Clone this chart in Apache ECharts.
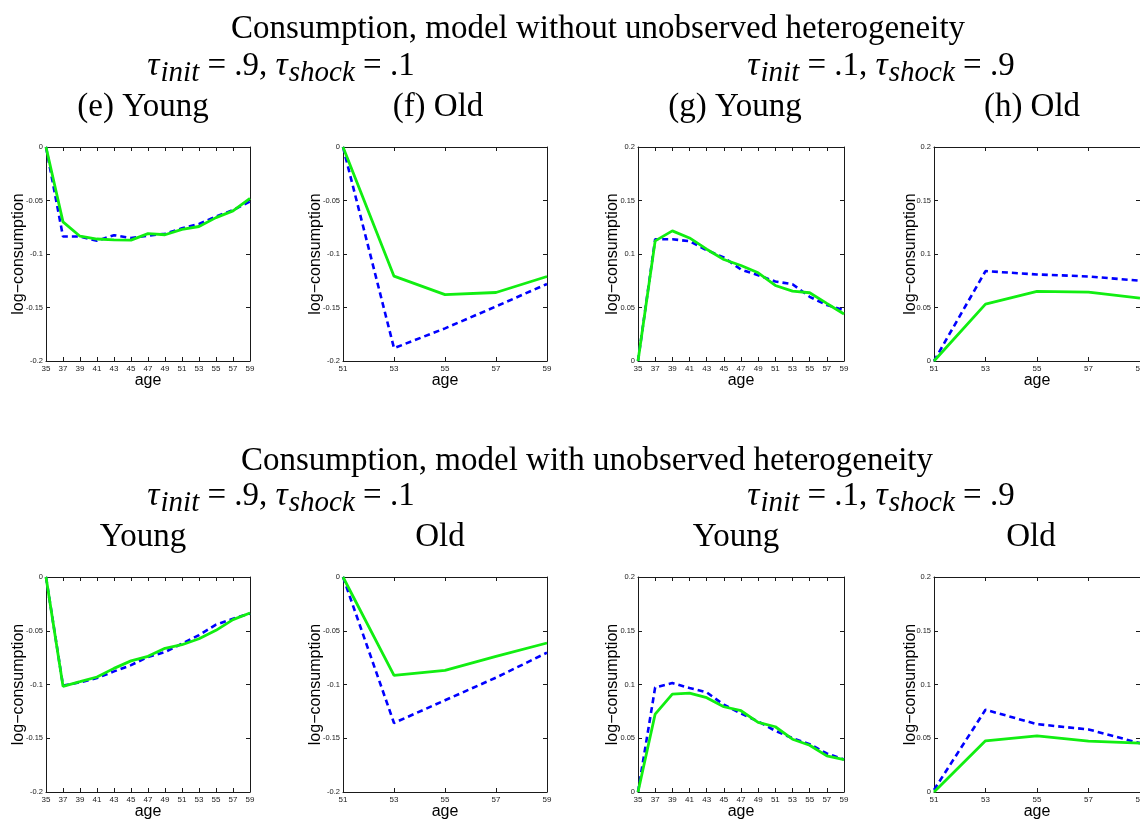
<!DOCTYPE html>
<html>
<head>
<meta charset="utf-8">
<script src="https://cdn.jsdelivr.net/npm/echarts@6/dist/echarts.min.js"></script>
<style>html,body{margin:0;padding:0;background:#fff}#c{width:1140px;height:821px}</style>
</head>
<body>
<div id="c"></div>
<script>
// ---- Data ----
const agesYoung = ['35','37','39','41','43','45','47','49','51','53','55','57','59'];
const agesOld = ['51','53','55','57','59'];

// Model without unobserved heterogeneity, tau_init=.9, tau_shock=.1
const noUH_A_young_dashed = [0, -0.0837, -0.0837, -0.0877, -0.0824, -0.085, -0.083, -0.081, -0.076, -0.072, -0.065, -0.059, -0.051];
const noUH_A_young_solid  = [0, -0.070, -0.0834, -0.086, -0.0868, -0.087, -0.081, -0.082, -0.077, -0.0743, -0.066, -0.0597, -0.048];
const noUH_A_old_dashed = [0, -0.188, -0.1695, -0.149, -0.128];
const noUH_A_old_solid  = [0, -0.1207, -0.138, -0.136, -0.121];
// tau_init=.1, tau_shock=.9
const noUH_B_young_dashed = [0, 0.1138, 0.1138, 0.112, 0.1036, 0.0967, 0.0855, 0.0802, 0.0743, 0.0718, 0.060, 0.0523, 0.0476];
const noUH_B_young_solid  = [0, 0.1123, 0.1216, 0.115, 0.1045, 0.0949, 0.0893, 0.0824, 0.0706, 0.0653, 0.0638, 0.0538, 0.0439];
const noUH_B_old_dashed = [0, 0.084, 0.0809, 0.079, 0.075];
const noUH_B_old_solid  = [0, 0.0532, 0.065, 0.0644, 0.0588];

// Model with unobserved heterogeneity
const UH_A_young_dashed = [0, -0.101, -0.098, -0.094, -0.0878, -0.082, -0.0744, -0.0698, -0.062, -0.054, -0.0443, -0.0388, -0.034];
const UH_A_young_solid  = [0, -0.1017, -0.0974, -0.093, -0.085, -0.078, -0.0738, -0.0663, -0.063, -0.0574, -0.0496, -0.0397, -0.0335];
const UH_A_old_dashed = [0, -0.1358, -0.1147, -0.0936, -0.0704];
const UH_A_old_solid  = [0, -0.0915, -0.0868, -0.0738, -0.0614];
const UH_B_young_dashed = [0, 0.0973, 0.1014, 0.0967, 0.0927, 0.0812, 0.0731, 0.0656, 0.0569, 0.0501, 0.0445, 0.0358, 0.0302];
const UH_B_young_solid  = [0, 0.0725, 0.0911, 0.092, 0.0877, 0.0793, 0.0756, 0.0647, 0.0607, 0.0491, 0.0435, 0.0336, 0.0302];
const UH_B_old_dashed = [0.002, 0.0765, 0.0631, 0.0582, 0.0454];
const UH_B_old_solid  = [0, 0.0476, 0.0523, 0.0473, 0.0454];

const titleTop = 'Consumption, model without unobserved heterogeneity';
const titleBottom = 'Consumption, model with unobserved heterogeneity';
const panelLabelsTop = ['(e) Young', '(f) Old', '(g) Young', '(h) Old'];
const panelLabelsBottom = ['Young', 'Old', 'Young', 'Old'];
const yName = 'log\u2212consumption';
const xName = 'age';

// ---- Layout ----
const colLeft = [46, 343, 638, 934];
const colWidth = [204, 204, 206, 206];
const rowTop = [147, 577];
const rowHeight = [214, 215];
const nameGaps = [19, 19, 17, 15];

const panels = [
  [agesYoung, noUH_A_young_dashed, noUH_A_young_solid, -0.2, 0],
  [agesOld,   noUH_A_old_dashed,   noUH_A_old_solid,   -0.2, 0],
  [agesYoung, noUH_B_young_dashed, noUH_B_young_solid, 0, 0.2],
  [agesOld,   noUH_B_old_dashed,   noUH_B_old_solid,   0, 0.2],
  [agesYoung, UH_A_young_dashed, UH_A_young_solid, -0.2, 0],
  [agesOld,   UH_A_old_dashed,   UH_A_old_solid,   -0.2, 0],
  [agesYoung, UH_B_young_dashed, UH_B_young_solid, 0, 0.2],
  [agesOld,   UH_B_old_dashed,   UH_B_old_solid,   0, 0.2]
];

const lineCol = '#1a1a1a';
const tickFont = "'Liberation Sans Narrow','Liberation Sans',Arial,sans-serif";
const sansFont = "'Liberation Sans',Arial,sans-serif";
const serifFont = "'Liberation Serif','Times New Roman',serif";

const grid = [], xAxis = [], yAxis = [], series = [];
panels.forEach((p, i) => {
  const r = Math.floor(i / 4), c = i % 4;
  grid.push({left: colLeft[c], top: rowTop[r], width: colWidth[c], height: rowHeight[r],
    containLabel: false, outerBoundsMode: 'none'});
  const common = {
    gridIndex: i, type: 'category', data: p[0], boundaryGap: false,
    axisLine: {show: true, onZero: false, lineStyle: {color: lineCol, width: 1}},
    axisTick: {show: true, inside: true, length: 4, interval: 0, lineStyle: {color: lineCol}},
    splitLine: {show: false}
  };
  xAxis.push(Object.assign({}, common, {
    position: 'bottom',
    axisLabel: {interval: 0, fontSize: 8, color: '#1a1a1a', margin: 4, fontFamily: tickFont, hideOverlap: false},
    name: xName, nameLocation: 'middle', nameGap: 12, nameMoveOverlap: false,
    nameTextStyle: {fontSize: 16, color: '#000', fontFamily: sansFont}
  }));
  xAxis.push(Object.assign({}, common, {position: 'top', axisLabel: {show: false}}));
  const ycommon = {
    gridIndex: i, type: 'value', min: p[3], max: p[4], interval: 0.05,
    axisLine: {show: true, onZero: false, lineStyle: {color: lineCol, width: 1}},
    axisTick: {show: true, inside: true, length: 4, lineStyle: {color: lineCol}},
    splitLine: {show: false}
  };
  yAxis.push(Object.assign({}, ycommon, {
    position: 'left',
    axisLabel: {fontSize: 7.5, color: '#1a1a1a', margin: 3, fontFamily: tickFont,
      formatter: v => (Math.abs(v) < 1e-9 ? '0' : String(+v.toFixed(2)))},
    name: yName, nameLocation: 'middle', nameGap: nameGaps[c], nameMoveOverlap: false,
    nameTextStyle: {fontSize: 16, color: '#000', fontFamily: sansFont}
  }));
  yAxis.push(Object.assign({}, ycommon, {position: 'right', axisLabel: {show: false}}));
  series.push({
    type: 'line', xAxisIndex: 2 * i, yAxisIndex: 2 * i, data: p[1],
    symbol: 'none', showSymbol: false, z: 2,
    lineStyle: {color: '#0000ff', width: 2.6, type: [6, 4]}
  });
  series.push({
    type: 'line', xAxisIndex: 2 * i, yAxisIndex: 2 * i, data: p[2],
    symbol: 'none', showSymbol: false, z: 3,
    lineStyle: {color: '#11ee11', width: 2.8}
  });
});

function txt(s, x, y, size) {
  return {type: 'text', x: x, y: y, silent: true,
    style: {text: s, fill: '#000', fontSize: size, fontFamily: serifFont,
      textAlign: 'center', textVerticalAlign: 'middle'}};
}
function tauText(initVal, shockVal, x, y) {
  return {type: 'text', x: x, y: y, silent: true,
    style: {
      text: '{t|\u03c4}{s|init}{e| = }{n|' + initVal + ', }{t|\u03c4}{s|shock}{e| = }{m|' + shockVal + '}',
      fill: '#000', fontFamily: serifFont, fontSize: 33,
      textAlign: 'center', textVerticalAlign: 'middle',
      rich: {
        t: {fontStyle: 'italic', fontSize: 34, fontFamily: serifFont, lineHeight: 38, verticalAlign: 'bottom', padding: [0, 1, 5, 0]},
        s: {fontStyle: 'italic', fontSize: 29, fontFamily: serifFont, lineHeight: 28, verticalAlign: 'bottom'},
        e: {fontSize: 33, fontFamily: serifFont, lineHeight: 38, verticalAlign: 'bottom', padding: [0, 0, 5, 0]},
        n: {fontSize: 33, fontFamily: serifFont, lineHeight: 38, verticalAlign: 'bottom', padding: [0, 0, 5, 0]},
        m: {fontSize: 33, fontFamily: serifFont, lineHeight: 38, verticalAlign: 'bottom', padding: [0, 0, 5, 0]}
      }
    }};
}

const graphic = [
  txt(titleTop, 598, 29, 33),
  tauText('.9', '.1', 281, 69),
  tauText('.1', '.9', 881, 69),
  txt(panelLabelsTop[0], 143, 107, 33),
  txt(panelLabelsTop[1], 438, 107, 33),
  txt(panelLabelsTop[2], 735, 107, 33),
  txt(panelLabelsTop[3], 1032, 107, 33),
  txt(titleBottom, 587, 461, 33),
  tauText('.9', '.1', 281, 499),
  tauText('.1', '.9', 881, 499),
  txt(panelLabelsBottom[0], 143, 537, 33),
  txt(panelLabelsBottom[1], 440, 537, 33),
  txt(panelLabelsBottom[2], 736, 537, 33),
  txt(panelLabelsBottom[3], 1031, 537, 33)
];

const chart = echarts.init(document.getElementById('c'), null, {renderer: 'canvas'});
chart.setOption({
  animation: false,
  backgroundColor: '#fff',
  grid: grid, xAxis: xAxis, yAxis: yAxis, series: series, graphic: graphic
});
</script>
</body>
</html>
